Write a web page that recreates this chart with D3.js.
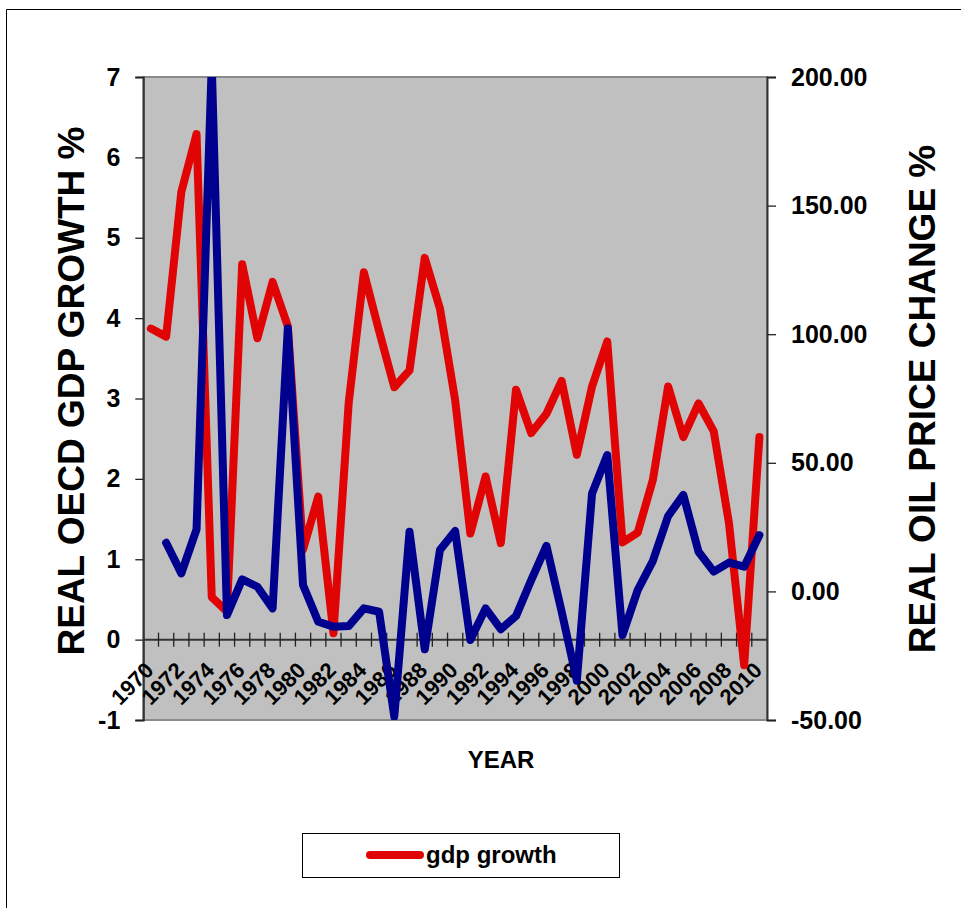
<!DOCTYPE html>
<html>
<head>
<meta charset="utf-8">
<script src="https://cdn.jsdelivr.net/npm/d3@7"></script>
<style>
  html, body { margin: 0; padding: 0; background: #fff; }
  svg { display: block; font-family: "Liberation Sans", Arial, sans-serif; font-weight: bold; }
</style>
</head>
<body>
<svg id="chart" width="961" height="908"></svg>
<script>
// Years on the category axis
const years = d3.range(1970, 2011).map(String);

// Real OECD GDP growth, % (left axis)
const gdpGrowth = [3.87, 3.77, 5.57, 6.29, 0.53, 0.35, 4.67, 3.75, 4.45, 3.90,
  1.12, 1.78, 0.08, 2.94, 4.57, 3.84, 3.14, 3.35, 4.75, 4.12,
  2.98, 1.32, 2.03, 1.20, 3.11, 2.57, 2.81, 3.22, 2.30, 3.15,
  3.71, 1.21, 1.33, 1.99, 3.15, 2.52, 2.94, 2.59, 1.45, -0.32,
  2.52];

// Real oil price change, % (right axis); no value for 1970
const oilChange = [null, 18.9, 7.0, 24.1, 205, -9.2, 4.7, 1.8, -6.6, 102.3,
  2.5, -11.8, -13.7, -13.5, -6.6, -7.9, -48.7, 23.2, -22.5, 16.1,
  23.5, -18.9, -6.6, -14.7, -9.6, 4.4, 17.7, -7.9, -34.7, 38.1,
  53.0, -17.0, 0.5, 11.9, 29.3, 37.5, 15.4, 7.7, 11.2, 9.6,
  21.9];

const leftTicks = [-1, 0, 1, 2, 3, 4, 5, 6, 7];
const rightTicks = [-50, 0, 50, 100, 150, 200];

const svg = d3.select("#chart");

// outer chart border (open to the right and bottom)
svg.append("path")
  .attr("d", "M6.5,920 V9.5 H970")
  .attr("fill", "none").attr("stroke", "#000").attr("stroke-width", 1);

const plotL = 143.3, plotR = 767, plotT = 77, plotB = 720;

const x = d3.scaleBand().domain(years).range([plotL, plotR]);
const yL = d3.scaleLinear().domain([-1, 7]).range([plotB, plotT]);
const yR = d3.scaleLinear().domain([-50, 200]).range([plotB, plotT]);

// plot area
svg.append("rect")
  .attr("x", plotL).attr("y", plotT)
  .attr("width", plotR - plotL).attr("height", plotB - plotT)
  .attr("fill", "#c0c0c0").attr("stroke", "#8a8a8a").attr("stroke-width", 2);

svg.append("clipPath").attr("id", "plotClip")
  .append("rect")
  .attr("x", plotL).attr("y", plotT)
  .attr("width", plotR - plotL).attr("height", plotB - plotT);

// left axis
const axL = svg.append("g")
  .attr("transform", `translate(${plotL},0)`)
  .call(d3.axisLeft(yL).tickValues(leftTicks).tickFormat(d => String(d))
    .tickSize(8).tickPadding(15));
axL.select(".domain").attr("stroke", "#333").attr("stroke-width", 2);
axL.selectAll(".tick line").attr("stroke", "#222").attr("stroke-width", 1.3);
axL.selectAll(".tick text").attr("font-size", 25).attr("font-weight", "bold")
  .attr("fill", "#000").attr("font-family", "Liberation Sans, Arial, sans-serif");

// right axis
const axR = svg.append("g")
  .attr("transform", `translate(${plotR},0)`)
  .call(d3.axisRight(yR).tickValues(rightTicks).tickFormat(d => d.toFixed(2))
    .tickSize(9).tickPadding(15));
axR.select(".domain").attr("stroke", "#333").attr("stroke-width", 2);
axR.selectAll(".tick line").attr("stroke", "#222").attr("stroke-width", 1.3);
axR.selectAll(".tick text").attr("font-size", 25).attr("font-weight", "bold")
  .attr("fill", "#000").attr("font-family", "Liberation Sans, Arial, sans-serif");

// category axis along the zero line of the left scale
const y0 = yL(0);
const axX = svg.append("g").attr("transform", `translate(0,${y0})`);
axX.append("line")
  .attr("x1", plotL).attr("x2", plotR)
  .attr("stroke", "#333").attr("stroke-width", 2);
const bounds = years.slice(1).map(d => x(d));
axX.selectAll("line.tk").data(bounds).join("line")
  .attr("class", "tk")
  .attr("x1", d => d).attr("x2", d => d)
  .attr("y1", -7).attr("y2", 7)
  .attr("stroke", "#222").attr("stroke-width", 1.3);
axX.selectAll("text").data(years.filter((d, i) => i % 2 === 0)).join("text")
  .attr("transform", d => `translate(${x(d) + x.bandwidth() / 2 + 4},32) rotate(-45)`)
  .attr("text-anchor", "end")
  .attr("font-size", 22)
  .attr("fill", "#000")
  .text(d => d);

// series lines
const plot = svg.append("g").attr("clip-path", "url(#plotClip)");

const gdpLine = d3.line()
  .x((d, i) => x(years[i]) + x.bandwidth() / 2)
  .y(d => yL(d));
const oilLine = d3.line()
  .defined(d => d !== null)
  .x((d, i) => x(years[i]) + x.bandwidth() / 2)
  .y(d => yR(d));

plot.append("path")
  .attr("d", gdpLine(gdpGrowth))
  .attr("fill", "none").attr("stroke", "#e00404")
  .attr("stroke-width", 8).attr("stroke-linejoin", "round").attr("stroke-linecap", "round");

plot.append("path")
  .attr("d", oilLine(oilChange))
  .attr("fill", "none").attr("stroke", "#00008f")
  .attr("stroke-width", 8).attr("stroke-linejoin", "round").attr("stroke-linecap", "round");

// axis titles
svg.append("text")
  .attr("transform", "translate(84,391) rotate(-90)")
  .attr("text-anchor", "middle")
  .attr("font-size", 37)
  .attr("fill", "#000")
  .text("REAL OECD GDP GROWTH %");

svg.append("text")
  .attr("transform", "translate(935,399) rotate(-90)")
  .attr("text-anchor", "middle")
  .attr("font-size", 37)
  .attr("fill", "#000")
  .text("REAL OIL PRICE CHANGE %");

svg.append("text")
  .attr("x", 501).attr("y", 768)
  .attr("text-anchor", "middle")
  .attr("font-size", 24)
  .attr("fill", "#000")
  .text("YEAR");

// legend
const lg = svg.append("g");
lg.append("rect")
  .attr("x", 302.5).attr("y", 833.5).attr("width", 317).attr("height", 44)
  .attr("fill", "#fff").attr("stroke", "#000").attr("stroke-width", 1);
lg.append("line")
  .attr("x1", 370).attr("x2", 420).attr("y1", 855).attr("y2", 855)
  .attr("stroke", "#e00404").attr("stroke-width", 8).attr("stroke-linecap", "round");
lg.append("text")
  .attr("x", 426).attr("y", 863)
  .attr("font-size", 24)
  .attr("fill", "#000")
  .text("gdp growth");
</script>
</body>
</html>
